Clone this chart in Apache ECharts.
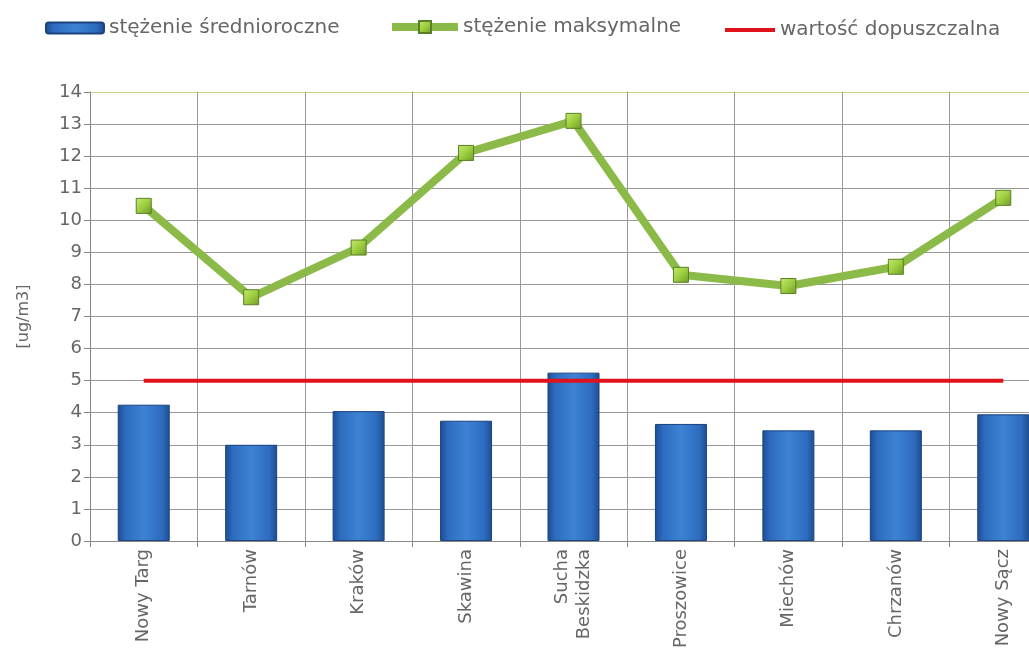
<!DOCTYPE html>
<html>
<head>
<meta charset="utf-8">
<script src="https://cdn.jsdelivr.net/npm/echarts@6/dist/echarts.min.js"></script>
<style>
html, body { margin: 0; padding: 0; background: #fff; }
#chart { width: 1029px; height: 661px; }
</style>
</head>
<body>
<div id="chart"></div>
<script>
var categories = ['Nowy Targ', 'Tarnów', 'Kraków', 'Skawina', 'Sucha\nBeskidzka', 'Proszowice', 'Miechów', 'Chrzanów', 'Nowy Sącz'];
var sredniorocznes = [4.25, 3.0, 4.05, 3.75, 5.25, 3.65, 3.45, 3.45, 3.95];
var maksymalne = [10.45, 7.6, 9.15, 12.1, 13.1, 8.3, 7.95, 8.55, 10.7];
var dopuszczalna = [5, 5, 5, 5, 5, 5, 5, 5, 5];
var yTicks = [0, 14, 1];

var txt = '#666';
var font = 'DejaVu Sans';

// linie siatki: szare, tylko górna zielonkawa
var gridColors = [];
for (var i = yTicks[0]; i <= yTicks[1]; i += yTicks[2]) {
	gridColors.push(i == yTicks[1] ? '#c9d98c' : '#999');
}

var blueGrad = new echarts.graphic.LinearGradient(0, 0, 1, 0, [
	{ offset: 0, color: '#1d4c91' },
	{ offset: 0.15, color: '#2d6cbf' },
	{ offset: 0.5, color: '#3d82d4' },
	{ offset: 0.85, color: '#2d6cbf' },
	{ offset: 1, color: '#1d4c91' }
]);

var chart = echarts.init(document.getElementById('chart'));
var option = {
	animation: false,
	legend: [{
		data: ['stężenie średnioroczne'],
		left: 40, top: 13,
		itemWidth: 58, itemHeight: 11,
		textStyle: { fontSize: 20, color: txt, fontFamily: font }
	}, {
		data: ['stężenie maksymalne'],
		left: 383, top: 12,
		itemWidth: 66, itemHeight: 15,
		lineStyle: { width: 8 },
		textStyle: { fontSize: 20, color: txt, fontFamily: font }
	}, {
		data: [{ name: 'wartość dopuszczalna', icon: 'rect' }],
		left: 720, top: 15,
		itemWidth: 50, itemHeight: 4,
		textStyle: { fontSize: 20, color: txt, fontFamily: font }
	}],
	grid: {
		left: 90, right: -28, top: 92, bottom: 120,
		outerBoundsMode: 'none'
	},
	xAxis: {
		type: 'category',
		data: categories,
		axisLine: { lineStyle: { color: '#888' } },
		axisTick: { show: true, length: 6, lineStyle: { color: '#888' } },
		splitLine: { show: true, lineStyle: { color: '#999', width: 1 } },
		axisLabel: {
			rotate: 90, margin: 8, fontSize: 18, color: txt, fontFamily: font,
			lineHeight: 22, interval: 0
		}
	},
	yAxis: {
		type: 'value',
		min: yTicks[0], max: yTicks[1], interval: yTicks[2],
		name: '[ug/m3]',
		nameLocation: 'middle',
		nameRotate: 90,
		nameGap: 58,
		nameTextStyle: { fontSize: 16, color: txt, fontFamily: font },
		axisLine: { show: true, lineStyle: { color: '#888' } },
		axisTick: { show: true, length: 6, lineStyle: { color: '#888' } },
		splitLine: { show: true, lineStyle: { color: gridColors, width: 1 } },
		axisLabel: { fontSize: 18, color: txt, fontFamily: font, margin: 8 }
	},
	series: [{
		name: 'stężenie średnioroczne',
		type: 'bar',
		data: sredniorocznes,
		barWidth: 52,
		itemStyle: {
			color: blueGrad,
			borderColor: '#1a437f',
			borderWidth: 1
		},
		z: 2
	}, {
		name: 'wartość dopuszczalna',
		type: 'line',
		data: dopuszczalna,
		symbol: 'none',
		lineStyle: { color: '#e0121b', width: 4 },
		itemStyle: { color: '#e0121b' },
		z: 3
	}, {
		name: 'stężenie maksymalne',
		type: 'line',
		data: maksymalne,
		symbol: 'rect',
		symbolSize: 15,
		lineStyle: { color: '#8cba48', width: 8 },
		itemStyle: {
			color: new echarts.graphic.LinearGradient(0, 0, 1, 1, [
				{ offset: 0, color: '#c6ea74' },
				{ offset: 0.5, color: '#9cce3e' },
				{ offset: 1, color: '#6e9a2a' }
			]),
			borderColor: '#5b7f24',
			borderWidth: 1
		},
		z: 4
	}]
};
chart.setOption(option, true);
</script>
</body>
</html>
